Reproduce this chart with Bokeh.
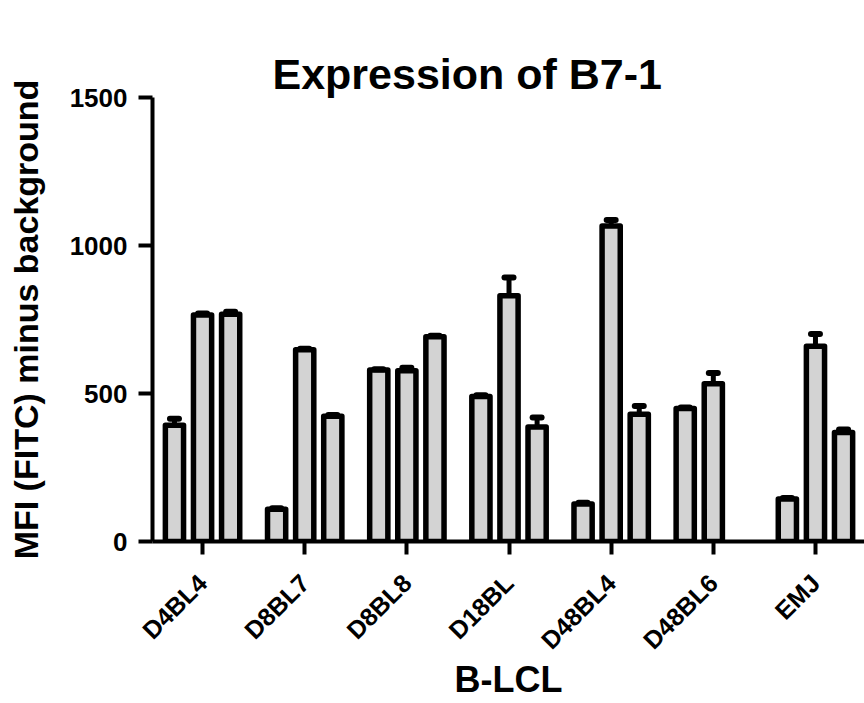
from math import pi
from bokeh.plotting import figure
from bokeh.models import ColumnDataSource, FixedTicker, Range1d, Title
from bokeh.embed import file_html
from bokeh.resources import INLINE

# ---- data ----
groups = ["D4BL4", "D8BL7", "D8BL8", "D18BL", "D48BL4", "D48BL6", "EMJ"]
series1_mean = [393, 109, 579, 490, 127, 449, 144]
series1_err = [22, 3, 3, 4, 4, 4, 3]
series2_mean = [765, 648, 577, 830, 1066, 533, 660]
series2_err = [5, 3, 10, 62, 20, 36, 41]
series3_mean = [768, 423, 692, 387, 430, None, 368]
series3_err = [8, 4, 3, 32, 28, None, 10]
y_ticks = [0, 500, 1000, 1500]
title_text = "Expression of B7-1"

# ---- layout / style ----
FONT = "Liberation Sans"
offsets = [-0.275, 0.0, 0.275]
bar_w = 0.178
cap_half = 0.044

xs, tops, uppers = [], [], []
for k, (means, errs) in enumerate([(series1_mean, series1_err),
                                   (series2_mean, series2_err),
                                   (series3_mean, series3_err)]):
    for i, (m, e) in enumerate(zip(means, errs)):
        if m is None:
            continue
        xs.append(i + offsets[k])
        tops.append(m)
        uppers.append(m + e)

src = ColumnDataSource(dict(
    x=xs, top=tops, upper=uppers,
    x0=[x - cap_half for x in xs], x1=[x + cap_half for x in xs],
))

p = figure(width=864, height=703,
           x_range=Range1d(-0.49, 6.48), y_range=Range1d(0, 1500),
           output_backend="svg", toolbar_location=None,
           min_border_left=152, min_border_right=0,
           min_border_top=97, min_border_bottom=160)

p.outline_line_color = None
p.grid.visible = False
p.background_fill_color = "white"
p.border_fill_color = "white"

# error stems, bars, caps
p.segment(x0="x", y0="top", x1="x", y1="upper", source=src,
          line_color="black", line_width=5)
p.vbar(x="x", top="top", bottom=0, width=bar_w, source=src,
       fill_color="#d3d3d3", line_color="black", line_width=5.5,
       line_join="round")
p.segment(x0="x0", y0="upper", x1="x1", y1="upper", source=src,
          line_color="black", line_width=6, line_cap="round")

# title, then a transparent spacer panel between it and the frame
p.add_layout(Title(text=title_text, text_font=FONT, text_font_size="43px",
                   text_font_style="bold", text_color="black",
                   align="left", offset=120, vertical_align="bottom",
                   standoff=0), "above")
p.add_layout(Title(text=" ", text_font_size="10px", text_alpha=0,
                   standoff=30), "above")

# y axis
ya = p.yaxis[0]
ya.ticker = FixedTicker(ticks=y_ticks)
ya.axis_line_width = 4
ya.major_tick_line_width = 4
ya.major_tick_out = 14
ya.major_tick_in = 0
ya.minor_tick_out = 0
ya.minor_tick_in = 0
ya.major_label_text_font = FONT
ya.major_label_text_font_size = "26px"
ya.major_label_text_font_style = "bold"
ya.major_label_text_color = "black"
ya.major_label_standoff = 11
ya.axis_label = "MFI (FITC) minus background"
ya.axis_label_text_font = FONT
ya.axis_label_text_font_size = "34px"
ya.axis_label_text_font_style = "bold"
ya.axis_label_text_color = "black"
ya.axis_label_standoff = 22

# x axis
xa = p.xaxis[0]
xa.ticker = FixedTicker(ticks=list(range(len(groups))))
xa.major_label_overrides = {i: g for i, g in enumerate(groups)}
xa.major_label_orientation = pi / 4
xa.axis_line_width = 4
xa.major_tick_line_width = 4
xa.major_tick_out = 13
xa.major_tick_in = 0
xa.minor_tick_out = 0
xa.minor_tick_in = 0
xa.major_label_text_font = FONT
xa.major_label_text_font_size = "25px"
xa.major_label_text_font_style = "bold"
xa.major_label_text_color = "black"
xa.major_label_standoff = 24
xa.axis_label = "B-LCL"
xa.axis_label_text_font = FONT
xa.axis_label_text_font_size = "36px"
xa.axis_label_text_font_style = "bold"
xa.axis_label_text_color = "black"
xa.axis_label_standoff = -8

open("out.html", "w").write(file_html(p, INLINE))
